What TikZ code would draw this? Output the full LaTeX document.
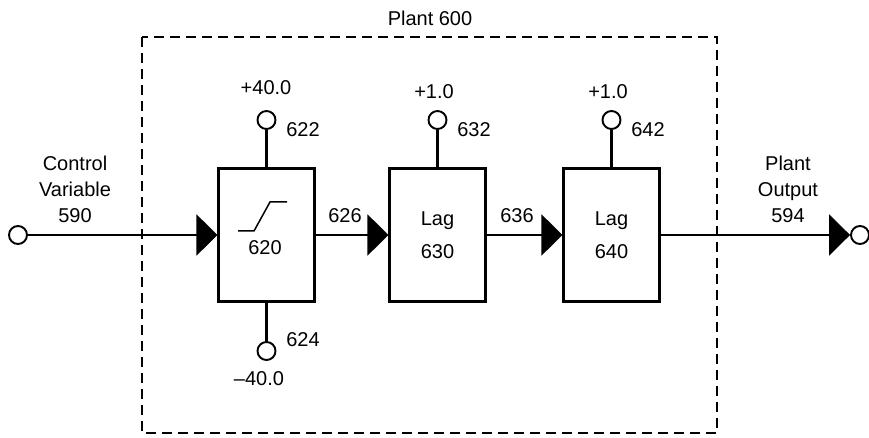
\documentclass[tikz,border=0pt]{standalone}
\usepackage{fontspec}
\setmainfont{Liberation Sans}
\usetikzlibrary{arrows.meta}
\begin{document}
\begin{tikzpicture}[x=1pt,y=-1pt,
  blk/.style={draw,line width=2.1pt,minimum width=96pt,minimum height=133pt,inner sep=0pt,align=center,font=\fontsize{20}{33}\selectfont},
  port/.style={circle,draw,line width=1.9pt,minimum size=18pt,inner sep=0pt},
  lbl/.style={font=\fontsize{20}{26}\selectfont,inner sep=0pt,align=center},
  wire/.style={line width=2.1pt},
  tipped/.style={-{Triangle[length=21pt,width=41pt]}}
]
\useasboundingbox (0,0) rectangle (869,438);
\draw[line width=1.4pt, dash pattern=on 10pt off 6pt] (142,37) rectangle (717,433);
\node[lbl] (plant) at (430,18) {Plant 600};
\node[port] (in) at (18,235) {};
\node[lbl] (cv) at (75,189) {Control\\Variable\\590};
\node[blk] (b620) at (266.5,235) {};
\node[blk] (b630) at (437.5,235) {Lag\\630};
\node[blk] (b640) at (611.5,235) {Lag\\640};
\node[port] (p622) at (266.5,120) {};
\node[port] (p624) at (266.5,351) {};
\node[port] (p632) at (437.5,120) {};
\node[port] (p642) at (611.5,120) {};
\node[port] (out) at (860,235) {};
\node[lbl] (out594) at (788,189) {Plant\\Output\\594};
% labels
\node[lbl] (v622) at (266,88) {+40.0};
\node[lbl] (n622) at (303,130) {622};
\node[lbl] (n624) at (303,340) {624};
\node[lbl] (v624) at (259,379) {–40.0};
\node[lbl] (v632) at (434,92) {+1.0};
\node[lbl] (n632) at (474,130) {632};
\node[lbl] (v642) at (608,92) {+1.0};
\node[lbl] (n642) at (648,130) {642};
\node[lbl] (n626) at (345,216) {626};
\node[lbl] (n636) at (517,216) {636};
\node[lbl] (n620) at (265,248) {620};
% saturation symbol
\draw[line width=1.5pt] (238,231) -- (254,231) -- (270,202) -- (287,202);
% wires
\draw[wire,tipped] (in.east) -- (b620.west);
\draw[wire,tipped] (b620.east) -- (b630.west);
\draw[wire,tipped] (b630.east) -- (b640.west);
\draw[wire,tipped] (b640.east) -- (out.west);
\draw[wire] (p622.south) -- (b620.north);
\draw[wire] (p624.north) -- (b620.south);
\draw[wire] (p632.south) -- (b630.north);
\draw[wire] (p642.south) -- (b640.north);
\end{tikzpicture}
\end{document}
